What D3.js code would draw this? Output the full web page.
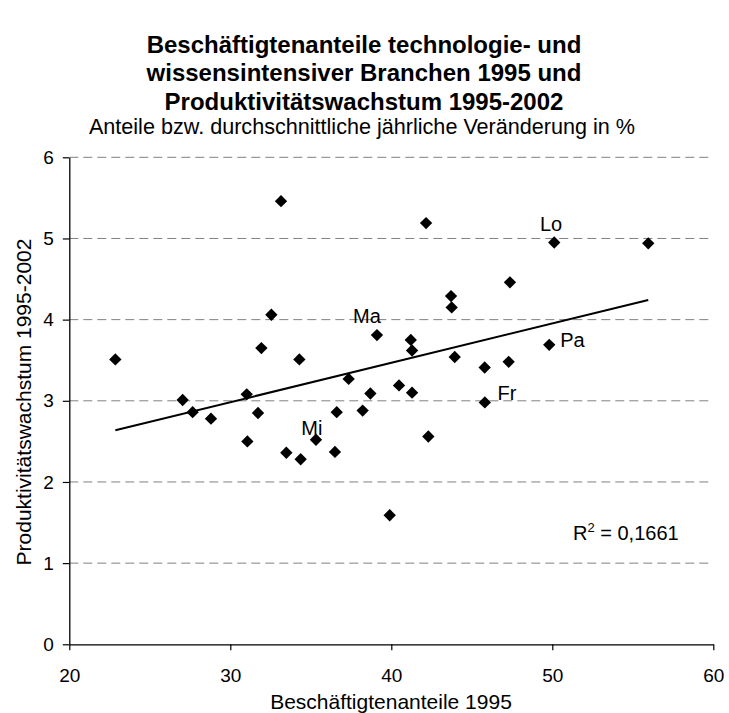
<!DOCTYPE html>
<html lang="de">
<head>
    <meta charset="UTF-8">
    <title>Beschäftigtenanteile und Produktivitätswachstum</title>
    <style>
        body { margin: 0; padding: 0; background: white; }
        svg text { font-family: "Liberation Sans", Arial, sans-serif; fill: black; }
    </style>
</head>
<body>
    <svg id="chart" width="729" height="713"></svg>
    <script src="https://d3js.org/d3.v7.min.js"></script>
    <script>
        // Beschäftigtenanteile 1995 (x) und Produktivitätswachstum 1995-2002 (y)
        const shares = [22.86, 27.04, 27.66, 28.80, 31.02, 31.72, 31.06, 31.93, 32.55, 33.15,
            33.48, 34.29, 34.37, 35.32, 36.50, 36.61, 37.35, 38.22, 38.70, 39.11,
            39.90, 40.48, 41.21, 41.29, 41.29, 42.16, 42.30, 43.71, 43.75, 43.94,
            45.80, 45.81, 47.29, 47.37, 49.81, 50.12, 55.96];
        const growth = [3.51, 3.01, 2.86, 2.78, 3.08, 2.85, 2.50, 3.65, 4.06, 5.46,
            2.36, 3.51, 2.28, 2.52, 2.37, 2.86, 3.27, 2.88, 3.09, 3.81,
            1.59, 3.19, 3.75, 3.62, 3.10, 5.19, 2.56, 4.29, 4.15, 3.54,
            3.41, 2.98, 3.48, 4.46, 3.69, 4.95, 4.94];
        // labelled regions: index into the arrays above
        const labelNames = ["Lo", "Pa", "Fr", "Ma", "Mi"];
        const labelIndex = [35, 34, 31, 19, 13];

        const xTicks = [20, 30, 40, 50, 60];
        const yTicks = [0, 1, 2, 3, 4, 5, 6];

        const titleLines = ["Beschäftigtenanteile technologie- und",
            "wissensintensiver Branchen 1995 und",
            "Produktivitätswachstum 1995-2002"];
        const subtitle = "Anteile bzw. durchschnittliche jährliche Veränderung in %";

        const svg = d3.select("#chart");
        const plotLeft = 69.3, plotRight = 713.3, plotTop = 157.3, plotBottom = 644.3;

        const x = d3.scaleLinear().domain([20, 60]).range([plotLeft, plotRight]);
        const y = d3.scaleLinear().domain([0, 6]).range([plotBottom, plotTop]);

        // title
        svg.append("g").selectAll("text")
            .data(titleLines)
            .enter()
            .append("text")
            .attr("x", 364)
            .attr("y", function(d, i) { return 52.8 + i * 28.5; })
            .attr("text-anchor", "middle")
            .attr("font-size", "24px")
            .attr("font-weight", "bold")
            .text(function(d) { return d; });

        svg.append("text")
            .attr("x", 362)
            .attr("y", 133.7)
            .attr("text-anchor", "middle")
            .attr("font-size", "21.6px")
            .text(subtitle);

        // gridlines
        svg.append("g").selectAll("line")
            .data(yTicks.filter(function(d) { return d > 0; }))
            .enter()
            .append("line")
            .attr("x1", plotLeft)
            .attr("x2", plotRight - 5)
            .attr("y1", function(d) { return y(d); })
            .attr("y2", function(d) { return y(d); })
            .attr("stroke", "#808080")
            .attr("stroke-width", 1)
            .attr("stroke-dasharray", "9,5");

        // axes
        const xAxis = svg.append("g")
            .attr("transform", "translate(0," + plotBottom + ")")
            .call(d3.axisBottom(x).tickValues(xTicks).tickSize(6).tickPadding(18).tickSizeOuter(0));
        const yAxis = svg.append("g")
            .attr("transform", "translate(" + plotLeft + ",0)")
            .call(d3.axisLeft(y).tickValues(yTicks).tickFormat(d3.format("d"))
                .tickSize(6.5).tickPadding(9).tickSizeOuter(0));
        [xAxis, yAxis].forEach(function(a) {
            a.select(".domain").attr("stroke", "#000").attr("stroke-width", 1.3);
            a.selectAll(".tick line").attr("stroke", "#000").attr("stroke-width", 1.2);
            a.selectAll("text").attr("font-size", "19px").attr("font-family", "Liberation Sans, Arial, sans-serif");
        });

        // axis titles
        svg.append("text")
            .attr("x", 391)
            .attr("y", 709)
            .attr("text-anchor", "middle")
            .attr("font-size", "21px")
            .text("Beschäftigtenanteile 1995");
        svg.append("text")
            .attr("transform", "translate(31,402) rotate(-90)")
            .attr("text-anchor", "middle")
            .attr("font-size", "21px")
            .text("Produktivitätswachstum 1995-2002");

        // linear trend
        const xm = d3.mean(shares), ym = d3.mean(growth);
        let sxy = 0, sxx = 0;
        shares.forEach(function(v, i) {
            sxy += (v - xm) * (growth[i] - ym);
            sxx += (v - xm) * (v - xm);
        });
        const slope = sxy / sxx, icpt = ym - slope * xm;
        const x0 = d3.min(shares), x1 = d3.max(shares);
        svg.append("line")
            .attr("x1", x(x0)).attr("y1", y(icpt + slope * x0))
            .attr("x2", x(x1)).attr("y2", y(icpt + slope * x1))
            .attr("stroke", "#000")
            .attr("stroke-width", 2);

        // points
        const diamond = d3.symbol().type(d3.symbolSquare).size(76);
        svg.append("g").selectAll("path")
            .data(shares)
            .enter()
            .append("path")
            .attr("d", diamond)
            .attr("transform", function(d, i) {
                return "translate(" + x(d) + "," + y(growth[i]) + ") rotate(45)";
            })
            .attr("fill", "#000");

        // labels
        const labelDx = [-14.3, 11, 12.7, -24, -14.7];
        const labelDy = [-11.3, 2.3, -2.3, -12.3, -5];
        svg.append("g").selectAll("text")
            .data(labelNames)
            .enter()
            .append("text")
            .attr("x", function(d, i) { return x(shares[labelIndex[i]]) + labelDx[i]; })
            .attr("y", function(d, i) { return y(growth[labelIndex[i]]) + labelDy[i]; })
            .attr("font-size", "20px")
            .text(function(d) { return d; });

        // R²
        const r2 = svg.append("text")
            .attr("x", 573)
            .attr("y", 540)
            .attr("font-size", "20px");
        r2.append("tspan").text("R");
        r2.append("tspan").attr("font-size", "13px").attr("dy", -8).text("2");
        r2.append("tspan").attr("dy", 8).text(" = 0,1661");
    </script>
</body>
</html>
